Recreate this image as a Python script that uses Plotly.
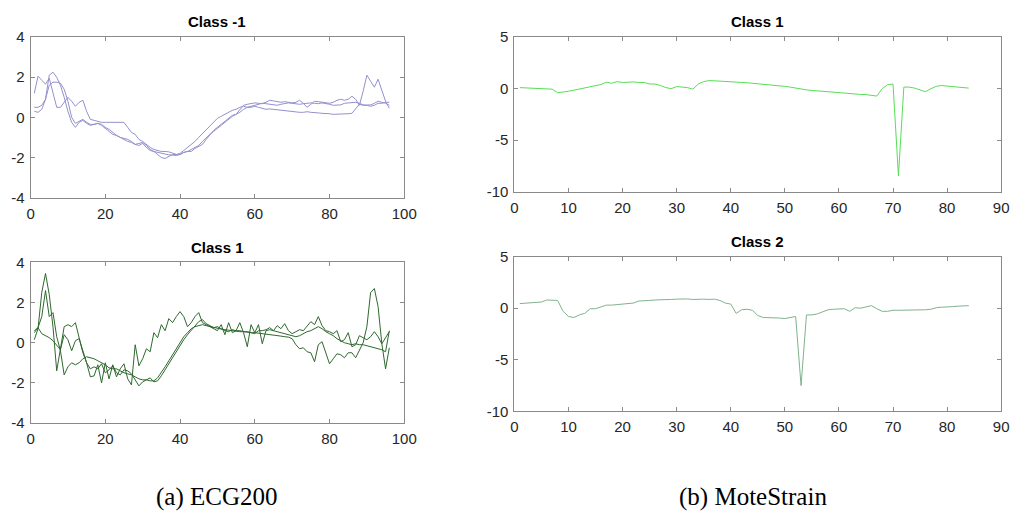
import plotly.graph_objects as go

# ---------------- ECG200 (x = 1..96) ----------------
ecg_t = list(range(1, 97))

ecg_neg_a = [1.2, 2.05, 1.85, 1.65, 1.95, 1.2, 0.5, 0.5, 0.75, 1.0, 0.8, 0.55, 0.75, 0.85, 0.3, -0.1,
             -0.15, -0.2, -0.25, -0.25, -0.25, -0.25, -0.25, -0.25, -0.25, -0.5, -0.75, -0.85, -1.1, -1.2, -1.35, -1.5,
             -1.6, -1.65, -1.7, -1.7, -1.72, -1.78, -1.85, -1.85, -1.75, -1.7, -1.6, -1.5, -1.4, -1.2, -1.0, -0.85,
             -0.7, -0.55, -0.4, -0.25, -0.1, 0.05, 0.15, 0.4, 0.6, 0.65, 0.7, 0.72, 0.7, 0.68, 0.75, 0.85,
             0.82, 0.78, 0.75, 0.78, 0.75, 0.72, 0.75, 0.85, 0.7, 0.5, 0.65, 0.8, 0.78, 0.75, 0.72, 0.7,
             0.75, 0.85, 0.9, 0.85, 0.9, 1.05, 0.9, 0.6, 1.3, 2.1, 1.8, 1.5, 1.9, 1.3, 0.8, 0.45]
ecg_neg_b = [0.5, 0.5, 0.6, 0.9, 2.1, 2.25, 2.0, 1.6, 1.0, 0.3, -0.25, -0.5, -0.25, -0.15, -0.3, -0.4,
             -0.35, -0.3, -0.4, -0.55, -0.7, -0.85, -0.9, -1.0, -1.1, -1.2, -1.25, -1.35, -1.3, -1.25, -1.4, -1.6,
             -1.7, -1.85, -2.0, -2.05, -1.95, -1.85, -1.85, -1.8, -1.65, -1.5, -1.35, -1.2, -1.0, -0.8, -0.6, -0.4,
             -0.2, -0.05, 0.05, 0.15, 0.25, 0.35, 0.4, 0.5, 0.55, 0.5, 0.5, 0.55, 0.5, 0.45, 0.4, 0.42,
             0.4, 0.38, 0.35, 0.33, 0.3, 0.28, 0.25, 0.25, 0.25, 0.28, 0.25, 0.22, 0.22, 0.2, 0.2, 0.18,
             0.15, 0.15, 0.18, 0.15, 0.18, 0.2, 0.45, 0.65, 0.6, 0.6, 0.62, 0.7, 0.8, 0.75, 0.7, 0.6]
ecg_neg_c = [0.3, 0.25, 0.4, 0.9, 1.6, 1.75, 1.75, 1.7, 1.4, 0.8, 0.0, -0.3, -0.2, -0.1, -0.25, -0.35,
             -0.35, -0.3, -0.35, -0.5, -0.6, -0.75, -0.9, -1.0, -1.05, -1.1, -1.2, -1.35, -1.4, -1.3, -1.5, -1.65,
             -1.7, -1.75, -1.8, -1.85, -1.87, -1.88, -1.9, -1.85, -1.75, -1.7, -1.7, -1.55, -1.45, -1.35, -1.1, -0.85,
             -0.65, -0.5, -0.35, -0.2, -0.05, 0.1, 0.15, 0.25, 0.4, 0.5, 0.55, 0.6, 0.65, 0.7, 0.68, 0.65,
             0.62, 0.6, 0.65, 0.7, 0.72, 0.7, 0.68, 0.65, 0.68, 0.7, 0.72, 0.7, 0.68, 0.72, 0.7, 0.65,
             0.6, 0.6, 0.62, 0.7, 0.72, 0.75, 0.75, 0.7, 0.62, 0.6, 0.55, 0.6, 0.7, 0.7, 0.75, 0.75]

ecg_pos_a = [0.15, 0.7, 2.5, 3.45, 2.4, 0.8, -1.4, -0.2, 0.8, 0.9, 0.8, 1.0, 0.3, -0.5, -1.0, -1.7,
             -1.65, -1.1, -2.0, -1.0, -1.8, -1.1, -1.7, -1.3, -1.05, -1.8, -2.1, -0.1, -1.15, -0.8, -0.3, -0.45,
             0.5, 0.25, 0.9, 0.6, 1.2, 1.0, 1.3, 1.55, 1.3, 0.8, 1.0, 1.3, 1.5, 1.0, 0.9, 0.8,
             0.7, 0.6, 0.9, 0.4, 1.0, 0.5, 0.6, 1.0, 0.5, -0.2, 0.9, 0.5, 0.9, -0.05, 0.6, 0.65,
             0.6, 0.55, 0.5, 0.45, 0.4, 0.35, 0.3, 0.35, 0.45, 0.55, 0.6, 0.7, 0.8, 0.7, 0.55, 0.45,
             0.35, 0.2, 0.1, 0.0, -0.05, -0.1, -0.05, -0.1, -0.1, -0.15, -0.2, -0.25, -0.3, -0.35, -0.45, 0.6]
ecg_pos_b = [0.5, 0.75, 1.3, 2.6, 1.3, 1.5, 0.3, -0.4, -1.6, -1.2, -1.0, -1.1, -1.0, -0.8, -0.7, -0.75,
             -0.8, -0.9, -1.0, -1.1, -1.25, -1.3, -1.3, -1.4, -1.5, -1.55, -1.6, -1.7, -1.8, -1.85, -1.85, -1.9,
             -1.9, -1.75, -1.5, -1.2, -0.9, -0.6, -0.3, 0.0, 0.3, 0.5, 0.7, 0.8, 0.85, 0.9, 0.85, 0.8,
             0.75, 0.7, 0.68, 0.65, 0.62, 0.6, 0.58, 0.55, 0.55, 0.52, 0.5, 0.5, 0.48, 0.45, 0.42, 0.4,
             0.38, 0.35, 0.33, 0.3, 0.28, 0.2, -0.1, -0.3, -0.25, -0.45, -0.5, -0.95, -0.1, 0.05, -0.5, -1.05,
             -0.8, -0.55, -0.6, -0.75, -0.5, -0.5, -0.75, -0.4, 0.0, 0.8, 2.5, 2.7, 1.8, -0.05, -1.3, -0.25]
ecg_pos_c = [0.6, 0.75, 0.45, 0.35, 0.25, 0.1, -0.15, -0.35, 0.4, 0.15, -0.4, 0.1, 0.2, -0.4, -1.0, -1.3,
             -1.2, -1.3, -1.05, -1.5, -1.35, -1.15, -1.5, -1.6, -1.35, -1.4, -1.55, -1.85, -2.15, -1.95, -1.85, -1.75,
             -1.95, -1.9, -1.65, -1.35, -1.0, -0.7, -0.4, -0.1, 0.15, 0.4, 0.6, 0.8, 1.05, 1.15, 0.95, 0.85,
             0.75, 0.8, 0.7, 0.6, 0.55, 0.65, 0.6, 0.6, 0.55, 0.55, 0.5, 0.45, 0.6, 0.6, 0.65, 0.75,
             0.6, 0.85, 0.7, 0.95, 0.6, 0.45, 0.55, 0.65, 0.6, 0.85, 1.05, 0.9, 1.3, 0.85, 0.6, 0.55,
             0.45, 0.6, 0.05, 0.15, 0.5, -0.2, -0.1, 0.35, 0.25, 0.15, 0.3, 0.55, 0.3, -0.05, 0.25, 0.55]

# ---------------- MoteStrain (x = 1..84) ----------------
mote_t = list(range(1, 85))

mote_c1 = [0.1, 0.08, 0.05, 0.03, 0.02, 0.0, -0.05, -0.4, -0.35, -0.25, -0.15, -0.05, 0.1, 0.15, 0.25, 0.4,
           0.62, 0.52, 0.68, 0.6, 0.62, 0.65, 0.6, 0.6, 0.45, 0.45, 0.3, 0.1, 0.0, 0.2, 0.15, 0.1,
           -0.05, 0.45, 0.68, 0.78, 0.76, 0.74, 0.72, 0.68, 0.64, 0.6, 0.57, 0.53, 0.48, 0.43, 0.38, 0.33,
           0.28, 0.22, 0.15, 0.05, -0.08, -0.12, -0.17, -0.22, -0.26, -0.3, -0.35, -0.4, -0.45, -0.5, -0.55, -0.56,
           -0.58, -0.62, -0.72, 0.0, 0.38, 0.45, -8.45, 0.15, 0.15, 0.05, -0.1, -0.3, 0.0, 0.22, 0.3, 0.25,
           0.22, 0.2, 0.12, 0.05]
mote_c2 = [0.45, 0.5, 0.55, 0.6, 0.6, 0.8, 0.75, 0.75, -0.3, -0.8, -0.9, -0.65, -0.5, -0.05, -0.05, 0.15,
           0.3, 0.3, 0.35, 0.4, 0.45, 0.5, 0.7, 0.7, 0.75, 0.8, 0.8, 0.85, 0.85, 0.88, 0.9, 0.9,
           0.85, 0.88, 0.88, 0.85, 0.88, 0.75, 0.5, 0.4, -0.5, -0.15, -0.1, -0.2, -0.7, -0.9, -0.9, -0.92,
           -0.95, -1.0, -0.9, -0.8, -7.5, -0.65, -0.65, -0.55, -0.35, -0.15, -0.1, -0.05, -0.05, -0.3, 0.05, 0.0,
           0.1, 0.25, -0.05, -0.3, -0.3, -0.2, -0.2, -0.2, -0.2, -0.2, -0.15, -0.15, -0.1, 0.05, 0.1, 0.1,
           0.15, 0.2, 0.2, 0.25]

ecg_x_ticks = [0, 20, 40, 60, 80, 100]
ecg_y_ticks = [-4, -2, 0, 2, 4]
mote_x_ticks = [0, 10, 20, 30, 40, 50, 60, 70, 80, 90]
mote_y_ticks = [-10, -5, 0, 5]

titles = ["Class -1", "Class 1", "Class 1", "Class 2"]
captions = ["(a) ECG200", "(b) MoteStrain"]

W, H = 1026, 520
LAV = "rgb(148,144,204)"
DKG = "rgb(46,104,46)"
BRG = "rgb(86,222,86)"
GRG = "rgb(128,178,140)"


def px_x(p):
    return p / W


def px_y(p):
    return 1 - p / H


fig = go.Figure()

panels = [
    # axis suffix, x pixel span, y pixel span, series, x values, colour, xticks, yticks, x range, y range
    ("", (27, 407), (29, 195), [ecg_neg_a, ecg_neg_b, ecg_neg_c], ecg_t, LAV, ecg_x_ticks, ecg_y_ticks, [0, 100], [-4, 4]),
    ("2", (27, 407), (262, 428), [ecg_pos_a, ecg_pos_b, ecg_pos_c], ecg_t, DKG, ecg_x_ticks, ecg_y_ticks, [0, 100], [-4, 4]),
    ("3", (519, 1014), (29, 189), [mote_c1], mote_t, BRG, mote_x_ticks, mote_y_ticks, [0, 90], [-10, 5]),
    ("4", (519, 1014), (256, 416), [mote_c2], mote_t, GRG, mote_x_ticks, mote_y_ticks, [0, 90], [-10, 5]),
]

tick_font = dict(family="Arial, Liberation Sans, sans-serif", size=15, color="#262626")
layout_axes = {}
annotations = []

for i, (sfx, xs, ys, series, tt, col, xt, yt, xr, yr) in enumerate(panels):
    for s in series:
        fig.add_trace(go.Scatter(x=tt, y=s, mode="lines", line=dict(color=col, width=1),
                                 xaxis="x" + sfx, yaxis="y" + sfx, showlegend=False,
                                 hoverinfo="skip"))
    common = dict(showline=True, linecolor="#8a8a8a", linewidth=1, mirror="ticks",
                  ticks="inside", ticklen=4, tickcolor="#8a8a8a", tickfont=tick_font,
                  showgrid=False, zeroline=False, fixedrange=True)
    layout_axes["xaxis" + sfx] = dict(common, domain=[px_x(xs[0]), px_x(xs[1])], range=xr,
                                      tickvals=xt, ticktext=[str(v) for v in xt],
                                      anchor="y" + sfx, ticklabelstandoff=2)
    layout_axes["yaxis" + sfx] = dict(common, domain=[px_y(ys[1]), px_y(ys[0])], range=yr,
                                      tickvals=yt, ticktext=[str(v) for v in yt],
                                      anchor="x" + sfx, ticklabelstandoff=2)
    annotations.append(dict(text="<b>" + titles[i] + "</b>", x=(xs[0] + xs[1]) / 2 / W,
                            y=px_y(ys[0] - 5), xref="paper", yref="paper",
                            xanchor="center", yanchor="bottom", showarrow=False,
                            font=dict(family="Arial, Liberation Sans, sans-serif", size=15,
                                      color="#000000")))

for text, cx in zip(captions, [217, 762]):
    annotations.append(dict(text=text, x=cx / W, y=px_y(505), xref="paper", yref="paper",
                            xanchor="center", yanchor="middle", showarrow=False,
                            font=dict(family="Liberation Serif, Times New Roman, serif", size=25,
                                      color="#000000")))

fig.update_layout(width=W, height=H, margin=dict(l=0, r=0, t=0, b=0),
                  paper_bgcolor="white", plot_bgcolor="white",
                  annotations=annotations, **layout_axes)

fig.write_html("out.html")
